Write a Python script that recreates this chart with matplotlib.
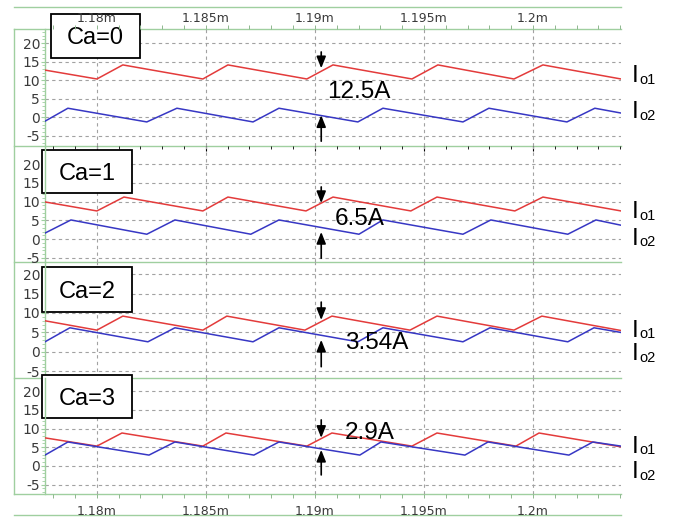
import matplotlib
matplotlib.use("Agg")
import matplotlib.pyplot as plt
from matplotlib.ticker import MultipleLocator
from matplotlib.patches import Rectangle
from matplotlib.lines import Line2D

plt.rcParams["axes.unicode_minus"] = False

# ---------------- data ----------------
ca_labels = ["Ca=0", "Ca=1", "Ca=2", "Ca=3"]
delta_labels = ["12.5A", "6.5A", "3.54A", "2.9A"]

x_ticks = [1.18, 1.185, 1.19, 1.195, 1.2]
x_tick_labels = ["1.18m", "1.185m", "1.19m", "1.195m", "1.2m"]
y_ticks = [-5, 0, 5, 10, 15, 20]

# Ca=0
red0_t = [1.17762, 1.18000, 1.18119, 1.18486, 1.18601, 1.18963, 1.19083, 1.19445, 1.19564, 1.19913, 1.20046, 1.20404]
red0_v = [12.7, 10.3, 14.1, 10.3, 14.1, 10.3, 14.1, 10.3, 14.1, 10.3, 14.1, 10.3]
blue0_t = [1.17762, 1.17867, 1.18229, 1.18367, 1.18716, 1.18835, 1.19197, 1.19312, 1.19679, 1.19798, 1.20156, 1.20284, 1.20404]
blue0_v = [-1.1, 2.4, -1.3, 2.4, -1.3, 2.4, -1.3, 2.4, -1.3, 2.4, -1.3, 2.4, 1.1]

# Ca=1
red1_t = [1.17762, 1.18000, 1.18124, 1.18486, 1.18601, 1.18959, 1.19083, 1.19440, 1.19560, 1.19917, 1.20046, 1.20404]
red1_v = [9.9, 7.5, 11.2, 7.5, 11.2, 7.5, 11.2, 7.5, 11.2, 7.5, 11.2, 7.5]
blue1_t = [1.17762, 1.17881, 1.18229, 1.18358, 1.18706, 1.18835, 1.19202, 1.19312, 1.19679, 1.19807, 1.20160, 1.20289, 1.20404]
blue1_v = [1.6, 5.1, 1.3, 5.1, 1.3, 5.1, 1.3, 5.1, 1.3, 5.1, 1.3, 5.1, 3.7]

# Ca=2
red2_t = [1.17762, 1.18000, 1.18119, 1.18486, 1.18596, 1.18954, 1.19078, 1.19436, 1.19560, 1.19913, 1.20041, 1.20404]
red2_v = [8.0, 5.6, 9.2, 5.6, 9.2, 5.6, 9.2, 5.6, 9.2, 5.6, 9.2, 5.5]
blue2_t = [1.17762, 1.17876, 1.18234, 1.18358, 1.18716, 1.18835, 1.19197, 1.19312, 1.19679, 1.19803, 1.20160, 1.20280, 1.20404]
blue2_v = [2.6, 6.2, 2.6, 6.2, 2.6, 6.2, 2.6, 6.2, 2.6, 6.2, 2.6, 6.2, 5.0]

# Ca=3
red3_t = [1.17762, 1.18000, 1.18115, 1.18486, 1.18592, 1.18963, 1.19078, 1.19445, 1.19560, 1.19922, 1.20028, 1.20404]
red3_v = [7.5, 5.3, 8.8, 5.3, 8.8, 5.3, 8.8, 5.3, 8.8, 5.3, 8.8, 5.1]
blue3_t = [1.17762, 1.17867, 1.18239, 1.18358, 1.18720, 1.18835, 1.19206, 1.19303, 1.19688, 1.19794, 1.20165, 1.20275, 1.20404]
blue3_v = [2.9, 6.4, 2.9, 6.4, 2.9, 6.4, 2.9, 6.4, 2.9, 6.4, 2.9, 6.4, 5.3]

# arrow positions (time, down-arrow from/to, up-arrow from/to)
arrow_t = 1.19029
down_from = [17.6, 13.9, 12.8, 12.3]
down_to = [13.2, 9.6, 8.2, 7.5]
up_from = [-6.5, -5.1, -3.8, -2.4]
up_to = [0.5, 1.9, 3.1, 4.3]

red_t = [red0_t, red1_t, red2_t, red3_t]
red_v = [red0_v, red1_v, red2_v, red3_v]
blue_t = [blue0_t, blue1_t, blue2_t, blue3_t]
blue_v = [blue0_v, blue1_v, blue2_v, blue3_v]

# ---------------- style / layout ----------------
W, H = 675, 518
fig = plt.figure(figsize=(6.75, 5.18), dpi=100)
fig.patch.set_facecolor("white")

def fx(x):
    return x / W

def fy(y):
    return 1 - y / H

GREEN = "#9fcf9f"
GRID = "#a2a2a2"
RED = "#e33b3b"
BLUE = "#3737c4"
TICKC = "#3a3a3a"
XTICKC = "#8fb88f"
NARROW = ["Liberation Sans Narrow", "DejaVu Sans"]
SANS = ["Liberation Sans", "DejaVu Sans"]

panel_px = [(29, 146), (146, 262), (262, 378), (378, 494)]
ylims = [(-7.8, 23.8), (-6.1, 24.8), (-6.7, 23.1), (-7.5, 23.5)]
xlim = (1.17762, 1.20404)
X0, X1 = 45, 621

box_px = [(51, 14, 140, 58), (42, 150, 132, 193), (42, 267, 132, 312), (42, 375, 132, 418)]
delta_px = [(327, 92), (335, 219), (345, 343), (345, 433)]
io1_base = [82, 218, 337, 453]
io2_base = [118, 245, 360, 478]

# frame lines (green), drawn beneath the axes
for y in [7, 29, 146, 262, 378, 494, 515]:
    fig.add_artist(Line2D([fx(14), fx(X1)], [fy(y), fy(y)], color=GREEN, lw=1.0, zorder=-1))
fig.add_artist(Line2D([fx(14), fx(14)], [fy(29), fy(494)], color=GREEN, lw=1.0, zorder=-1))

axes = []
for i, (top, bot) in enumerate(panel_px):
    ax = fig.add_axes([fx(X0), fy(bot), fx(X1) - fx(X0), (bot - top) / H])
    axes.append(ax)
    ax.set_facecolor("none")
    ax.plot(red_t[i], red_v[i], color=RED, lw=1.1, zorder=3)
    ax.plot(blue_t[i], blue_v[i], color=BLUE, lw=1.1, zorder=3)
    ax.set_xlim(*xlim)
    ax.set_ylim(*ylims[i])

    ax.set_yticks(y_ticks)
    ax.yaxis.set_minor_locator(MultipleLocator(1))
    ax.tick_params(axis="y", which="major", length=3, width=0.8, color=GREEN,
                   labelsize=10, labelcolor=TICKC, pad=0.5)
    ax.tick_params(axis="y", which="minor", length=2, width=0.6, color=GREEN)
    for lab in ax.get_yticklabels():
        lab.set_family(NARROW)

    ax.set_xticks(x_ticks, labels=x_tick_labels)
    ax.xaxis.set_minor_locator(MultipleLocator(0.001))
    if i == 3:
        ax.tick_params(axis="x", which="both", top=False, bottom=True,
                       labeltop=False, labelbottom=True, length=3, width=0.7,
                       color=XTICKC, labelsize=9, labelcolor=TICKC, pad=5)
    else:
        ax.tick_params(axis="x", which="both", top=False, bottom=False,
                       labeltop=False, labelbottom=False)
    for lab in ax.get_xticklabels():
        lab.set_family(NARROW)

    ax.grid(True, which="major", axis="both", linestyle=(0, (3, 3)),
            color=GRID, lw=0.8, zorder=1)
    for s in ["top", "bottom", "right"]:
        ax.spines[s].set_visible(False)
    ax.spines["left"].set_color(GREEN)
    ax.spines["left"].set_linewidth(1.0)

    # arrows
    ap = dict(arrowstyle="-|>,head_length=0.7,head_width=0.28", color="black",
              lw=1.2, mutation_scale=10, shrinkA=0, shrinkB=0)
    ax.annotate("", xy=(arrow_t, down_to[i]), xytext=(arrow_t, down_from[i]),
                arrowprops=ap, annotation_clip=False)
    ax.annotate("", xy=(arrow_t, up_to[i]), xytext=(arrow_t, up_from[i]),
                arrowprops=ap, annotation_clip=False)

    # Ca box (above grid)
    x0, y0, x1, y1 = box_px[i]
    ax.add_patch(Rectangle((fx(x0), fy(y1)), fx(x1) - fx(x0), (y1 - y0) / H,
                           transform=fig.transFigure, facecolor="white",
                           edgecolor="black", lw=1.3, zorder=2.3, clip_on=False))
    ax.text(fx((x0 + x1) / 2), fy((y0 + y1) / 2 + 2.5), ca_labels[i], ha="center",
            va="center", fontsize=17, family=SANS, zorder=2.4,
            transform=fig.transFigure, clip_on=False)

# top time axis (twin so that its labels sit over the Ca=0 box)
axt = axes[0].twiny()
axt.patch.set_visible(False)
axt.set_xlim(*xlim)
axt.set_xticks(x_ticks, labels=x_tick_labels)
axt.xaxis.set_minor_locator(MultipleLocator(0.001))
axt.tick_params(axis="x", which="both", top=True, bottom=False, labeltop=True,
                labelbottom=False, length=3, width=0.7, color=XTICKC,
                labelsize=9, labelcolor=TICKC, pad=0)
for lab in axt.get_xticklabels():
    lab.set_family(NARROW)
for s in axt.spines.values():
    s.set_visible(False)

# delta labels
for i, (x, y) in enumerate(delta_px):
    fig.text(fx(x), fy(y), delta_labels[i], ha="left", va="center",
             fontsize=17.5, family=SANS, zorder=6)

# I_o1 / I_o2 labels
for i in range(4):
    for base, sub in [(io1_base[i], "o1"), (io2_base[i], "o2")]:
        fig.text(fx(632), fy(base), "I", ha="left", va="baseline",
                 fontsize=17.5, family=SANS)
        fig.text(fx(639), fy(base + 1.5), sub, ha="left", va="baseline",
                 fontsize=10.5, family=SANS)

fig.savefig("out.png", dpi=100)
